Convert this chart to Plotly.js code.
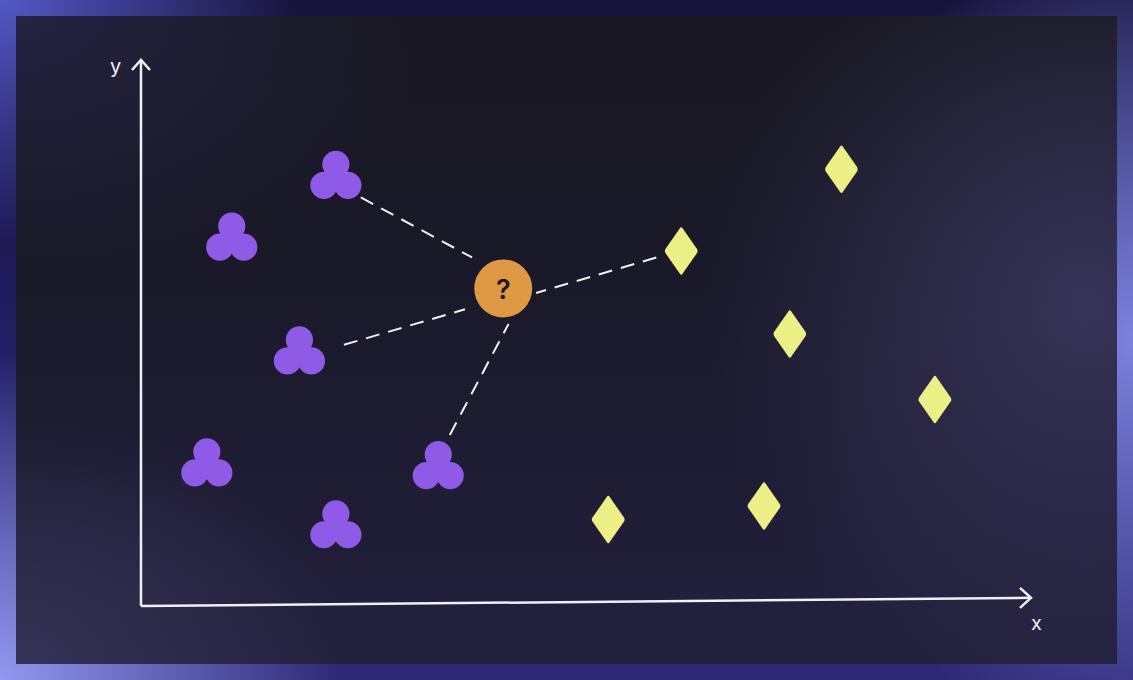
<!DOCTYPE html>
<html>
<head>
<meta charset="utf-8">
<script src="https://cdn.plot.ly/plotly-3.0.1.min.js"></script>
<style>
  html, body { margin: 0; padding: 0; background: #1e1c50; }
  #frame {
    position: relative; width: 1133px; height: 680px; overflow: hidden;
    background:
      radial-gradient(ellipse 340px 330px at 0px 680px, rgba(146,152,240,1) 0%, rgba(146,152,240,0) 100%),
      radial-gradient(ellipse 300px 240px at 0px 0px, rgba(84,88,198,1) 0%, rgba(84,88,198,0) 100%),
      radial-gradient(ellipse 320px 420px at 1133px 340px, rgba(126,130,222,1) 0%, rgba(126,130,222,0) 100%),
      linear-gradient(180deg, #15133c 0%, #24216a 60%, #2d2975 100%);
  }
  #panel {
    position: absolute; left: 16px; top: 16px; width: 1101px; height: 648px;
    background:
      radial-gradient(ellipse 380px 400px at 1070px 290px, rgba(56,54,90,0.95) 0%, rgba(56,54,90,0) 100%),
      radial-gradient(ellipse 320px 240px at 10px 640px, rgba(54,53,88,0.9) 0%, rgba(54,53,88,0) 100%),
      radial-gradient(ellipse 420px 260px at 0px 0px, rgba(36,35,66,1) 0%, rgba(36,35,66,0) 100%),
      linear-gradient(180deg, #18171f 0%, #1a1929 40%, #1f1d35 75%, #23213d 100%);
  }
  #chart { position: absolute; left: 0; top: 0; width: 1133px; height: 680px; }
</style>
</head>
<body>
<div id="frame"><div id="panel"></div><div id="chart"></div></div>
<script>
// class A (purple clusters) and class B (yellow diamonds)
var classAX = [2.19, 1.02, 1.78, 0.74, 3.34, 2.19];
var classAY = [4.70, 4.02, 2.77, 1.54, 1.51, 0.86];
var classBX = [7.87, 6.07, 7.29, 8.92, 5.25, 7.00];
var classBY = [4.80, 3.90, 2.99, 2.27, 0.95, 1.10];
// unknown point
var queryX = [4.07];
var queryY = [3.49];
// hand drawn dashed links to the 4 nearest neighbours (query end -> neighbour end)
var linkStartX = [3.72, 3.64, 4.13, 4.44];
var linkStartY = [3.83, 3.26, 3.10, 3.44];
var linkEndX = [2.47, 2.28, 3.47, 5.79];
var linkEndY = [4.49, 2.87, 1.88, 3.83];
// hand drawn axes
var axisX = [0, 10];
var axisXY = [0, 0.09];
var axisY = [0, 6];

function drawKnn() {
  var W = 1133, H = 680;
  var xRange = [-1.584, 11.146];
  var yRange = [-0.813, 6.659];

  var purple = "#8f5be6";
  var yellow = "#ecee86";
  var orange = "#df9843";
  var white = "#f0f0f2";

  var data = [];

  // axis lines
  data.push({ x: axisX, y: axisXY, mode: "lines", type: "scatter",
    line: { color: white, width: 2.5 }, hoverinfo: "skip" });
  data.push({ x: [0, 0], y: axisY, mode: "lines", type: "scatter",
    line: { color: white, width: 2.5 }, hoverinfo: "skip" });

  // dashed links
  for (var i = 0; i < linkStartX.length; i++) {
    data.push({
      x: [linkEndX[i], linkStartX[i]],
      y: [linkEndY[i], linkStartY[i]],
      mode: "lines", type: "scatter",
      line: { color: white, width: 2, dash: "14px,9px" }, hoverinfo: "skip"
    });
  }

  // unknown point
  data.push({ x: queryX, y: queryY, mode: "markers", type: "scatter",
    marker: { size: 58, color: orange, line: { width: 0 } },
    hoverinfo: "skip" });

  var shapes = [];
  // class A trefoils (three lobes plus a small centre fill)
  var lobes = [[0, 14, 13.6], [-12, -7, 13.6], [12, -7, 13.6], [0, 0, 7]];
  for (var a = 0; a < classAX.length; a++) {
    lobes.forEach(function (o) {
      shapes.push({ type: "circle", xref: "x", yref: "y",
        xsizemode: "pixel", ysizemode: "pixel",
        xanchor: classAX[a], yanchor: classAY[a],
        x0: o[0] - o[2], x1: o[0] + o[2], y0: o[1] - o[2], y1: o[1] + o[2],
        fillcolor: purple, line: { width: 0 }, layer: "above" });
    });
  }
  // class B diamonds
  for (var b = 0; b < classBX.length; b++) {
    shapes.push({ type: "path", xref: "x", yref: "y",
      xsizemode: "pixel", ysizemode: "pixel",
      xanchor: classBX[b], yanchor: classBY[b],
      path: "M-1.5,22.5 Q0,25 1.5,22.5 L15.8,2 Q17,0 15.8,-2 L1.5,-22.5 Q0,-25 -1.5,-22.5 L-15.8,-2 Q-17,0 -15.8,2 Z",
      fillcolor: yellow, line: { width: 0 }, layer: "above" });
  }
  // arrow heads
  shapes.push({ type: "path", xref: "x", yref: "y", xsizemode: "pixel", ysizemode: "pixel",
    xanchor: 0, yanchor: axisY[1], path: "M-9,-10 L0,0 L9,-10",
    line: { color: white, width: 2.5 }, layer: "above" });
  shapes.push({ type: "path", xref: "x", yref: "y", xsizemode: "pixel", ysizemode: "pixel",
    xanchor: axisX[1], yanchor: axisXY[1], path: "M-11,10 L0,0 L-11,-10",
    line: { color: white, width: 2.5 }, layer: "above" });

  var layout = {
    width: W, height: H,
    margin: { l: 0, r: 0, t: 0, b: 0 },
    paper_bgcolor: "rgba(0,0,0,0)",
    plot_bgcolor: "rgba(0,0,0,0)",
    showlegend: false,
    xaxis: { range: xRange, visible: false, fixedrange: true },
    yaxis: { range: yRange, visible: false, fixedrange: true },
    shapes: shapes,
    annotations: [
      { x: queryX[0], y: queryY[0], xref: "x", yref: "y", text: "?", showarrow: false,
        yshift: -1, font: { family: "Inter, sans-serif", size: 27, color: "#1d1b24", weight: 600 } },
      { x: 0, y: axisY[1], xref: "x", yref: "y", text: "y", showarrow: false,
        xshift: -25, yshift: -6, font: { family: "Inter, sans-serif", size: 20, color: white } },
      { x: axisX[1], y: axisXY[1], xref: "x", yref: "y", text: "x", showarrow: false,
        xshift: 5, yshift: -25, font: { family: "Inter, sans-serif", size: 20, color: white } }
    ]
  };

  Plotly.newPlot("chart", data, layout, { displayModeBar: false, staticPlot: true });
}
drawKnn();
</script>
</body>
</html>
